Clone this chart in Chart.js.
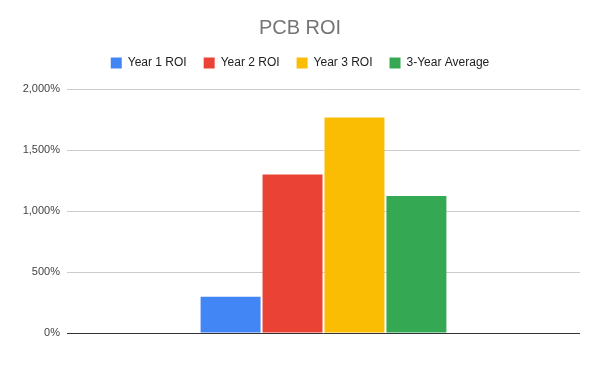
<!DOCTYPE html>
<html>
<head>
<meta charset="utf-8">
<script src="https://cdn.jsdelivr.net/npm/chart.js@4"></script>
<style>
  html, body { margin: 0; padding: 0; background: #ffffff; }
  #wrap { width: 600px; height: 371px; }
</style>
</head>
<body>
<div id="wrap"><canvas id="roiChart" width="600" height="371"></canvas></div>
<script>
// Chart data
const categories = [''];
const seriesNames = ['Year 1 ROI', 'Year 2 ROI', 'Year 3 ROI', '3-Year Average'];
const seriesColors = ['#4285F4', '#EA4335', '#FBBC04', '#34A853'];
const year1Roi = [297];
const year2Roi = [1300];
const year3Roi = [1767];
const avgRoi = [1122];
const yTicks = [0, 500, 1000, 1500, 2000];

const seriesValues = [year1Roi, year2Roi, year3Roi, avgRoi];
const fontFamily = '"Liberation Sans", Arial, sans-serif';

// Extra room between the legend and the plot area
const legendGap = {
    id: 'legendGap',
    beforeInit(chart) {
        const fit = chart.legend.fit;
        chart.legend.fit = function () {
            fit.bind(chart.legend)();
            this.height += 10;
        };
    }
};

const ctx = document.getElementById('roiChart').getContext('2d');

new Chart(ctx, {
    type: 'bar',
    data: {
        labels: categories,
        datasets: seriesNames.map((name, i) => ({
            label: name,
            data: seriesValues[i],
            backgroundColor: seriesColors[i],
            borderWidth: 0,
            categoryPercentage: 0.483,
            barPercentage: 0.968
        }))
    },
    plugins: [legendGap],
    options: {
        responsive: false,
        animation: false,
        layout: {
            padding: { left: 20, right: 20, top: 10, bottom: 38 }
        },
        plugins: {
            title: {
                display: true,
                text: 'PCB ROI',
                color: '#757575',
                font: { family: fontFamily, size: 20, weight: 'normal' },
                padding: { top: 6, bottom: 0 }
            },
            legend: {
                position: 'top',
                labels: {
                    color: '#222222',
                    boxWidth: 11,
                    boxHeight: 11,
                    padding: 17,
                    font: { family: fontFamily, size: 12 }
                }
            },
            tooltip: { enabled: false }
        },
        scales: {
            x: {
                ticks: { display: false },
                grid: { display: false, drawTicks: false },
                border: { display: false }
            },
            y: {
                min: 0,
                max: 2000,
                afterBuildTicks: function (scale) {
                    scale.ticks = yTicks.map(v => ({ value: v }));
                },
                afterFit: function (scale) {
                    scale.width = 47;
                },
                ticks: {
                    color: '#444444',
                    padding: 7,
                    font: { family: fontFamily, size: 11 },
                    callback: function (value) {
                        return value.toLocaleString('en-US') + '%';
                    }
                },
                grid: {
                    color: function (c) {
                        return c.tick && c.tick.value === 0 ? '#333333' : '#cccccc';
                    },
                    lineWidth: 1,
                    drawTicks: false
                },
                border: { display: false }
            }
        }
    }
});
</script>
</body>
</html>
